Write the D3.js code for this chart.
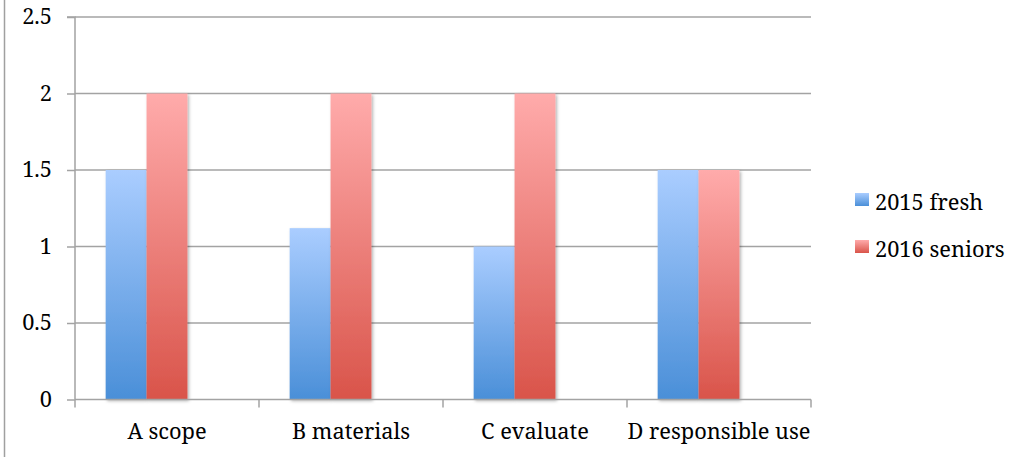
<!DOCTYPE html>
<html>
<head>
<meta charset="utf-8">
<script src="https://cdn.jsdelivr.net/npm/d3@7"></script>
<style>
  html, body { margin: 0; padding: 0; background: #fff; }
  svg { display: block; }
</style>
</head>
<body>
<svg id="chart" width="1009" height="457"></svg>
<script>
// Chart data
const categories = ["A scope", "B materials", "C evaluate", "D responsible use"];
const seriesNames = ["2015 fresh", "2016 seniors"];
const fresh2015 = [1.5, 1.12, 1.0, 1.5];
const seniors2016 = [2, 2, 2, 1.5];
const yTicks = [0, 0.5, 1, 1.5, 2, 2.5];

const seriesValues = [fresh2015, seniors2016];

const FONT = "'Noto Serif', 'Liberation Serif', serif";
const FS = 21.8;
const AXIS = "#a3a3a3";

const svg = d3.select("#chart");
const W = 1009, H = 457;
const plot = { left: 75, right: 811, top: 17, bottom: 399.5 };

// Outer frame (only the left edge falls inside the view)
svg.append("line")
  .attr("x1", 4.5).attr("x2", 4.5).attr("y1", 0).attr("y2", H)
  .attr("stroke", "#a0a0a0").attr("stroke-width", 1.5);

const x0 = d3.scaleBand().domain(categories).range([plot.left, plot.right]).padding(0);
// three slots per group; the third one is left empty
const slots = 3;
const barW = x0.bandwidth() / (slots + 1.5);
const x1 = d3.scaleBand().domain(d3.range(slots))
  .range([barW * 0.75, barW * 0.75 + barW * slots]).padding(0);

const y = d3.scaleLinear().domain([0, 2.5]).range([plot.bottom, plot.top]);

const defs = svg.append("defs");
const grads = [
  { id: "gBlue", top: "#aacdff", bottom: "#4a8fd8" },
  { id: "gRed", top: "#ffabab", bottom: "#d9544a" }
];
grads.forEach(g => {
  const lg = defs.append("linearGradient").attr("id", g.id)
    .attr("x1", 0).attr("y1", 0).attr("x2", 0).attr("y2", 1);
  lg.append("stop").attr("offset", "0%").attr("stop-color", g.top);
  lg.append("stop").attr("offset", "100%").attr("stop-color", g.bottom);
});
const f = defs.append("filter").attr("id", "shadow")
  .attr("x", "-20%").attr("y", "-5%").attr("width", "150%").attr("height", "115%");
f.append("feDropShadow").attr("dx", 1.5).attr("dy", 1.5).attr("stdDeviation", 1.8)
  .attr("flood-color", "#000").attr("flood-opacity", 0.3);

// Horizontal gridlines
svg.append("g").selectAll("line").data(yTicks.filter(d => d > 0)).join("line")
  .attr("x1", plot.left).attr("x2", plot.right)
  .attr("y1", d => y(d)).attr("y2", d => y(d))
  .attr("stroke", AXIS).attr("stroke-width", 1.5);

// Bars
const groups = svg.append("g").selectAll("g").data(seriesValues).join("g")
  .attr("fill", (d, i) => `url(#${grads[i].id})`);
groups.each(function (vals, si) {
  d3.select(this).selectAll("rect").data(vals).join("rect")
    .attr("x", (v, ci) => x0(categories[ci]) + x1(si))
    .attr("width", x1.bandwidth())
    .attr("y", v => y(v))
    .attr("height", v => y(0) - y(v))
    .attr("filter", "url(#shadow)");
});

// Y axis
const yAxis = d3.axisLeft(y).tickValues(yTicks).tickSize(8).tickPadding(15)
  .tickFormat(d => d3.format("")(d));
const gy = svg.append("g").attr("transform", `translate(${plot.left},0)`).call(yAxis);
gy.select(".domain").attr("stroke", AXIS).attr("stroke-width", 1.5)
  .attr("d", `M-8,${plot.top}H0V${plot.bottom}`);
gy.selectAll(".tick line").attr("stroke", AXIS).attr("stroke-width", 1.5);
gy.selectAll(".tick text").style("font-size", FS + "px")
  .style("font-family", FONT).attr("fill", "#000");

// X axis
const xAxis = d3.axisBottom(x0).tickSize(0).tickPadding(24);
const gx = svg.append("g").attr("transform", `translate(0,${plot.bottom})`).call(xAxis);
gx.select(".domain").attr("stroke", AXIS).attr("stroke-width", 1.5)
  .attr("d", `M${plot.left},0H${plot.right}`);
gx.selectAll(".tick text").style("font-size", FS + "px")
  .style("font-family", FONT).attr("fill", "#000");
// category boundary ticks
const bounds = categories.map(c => x0(c)).concat([plot.right]);
gx.append("g").selectAll("line").data(bounds).join("line")
  .attr("x1", d => d).attr("x2", d => d).attr("y1", 0).attr("y2", 8)
  .attr("stroke", AXIS).attr("stroke-width", 1.5);

// Legend
const legend = svg.append("g").attr("transform", "translate(855,193)");
const items = legend.selectAll("g").data(seriesNames).join("g")
  .attr("transform", (d, i) => `translate(0,${i * 47})`);
items.append("rect").attr("width", 14).attr("height", 13)
  .attr("fill", (d, i) => `url(#${grads[i].id})`);
items.append("text").attr("x", 20).attr("y", 17)
  .style("font-size", FS + "px").style("font-family", FONT).attr("fill", "#000")
  .text(d => d);
</script>
</body>
</html>
